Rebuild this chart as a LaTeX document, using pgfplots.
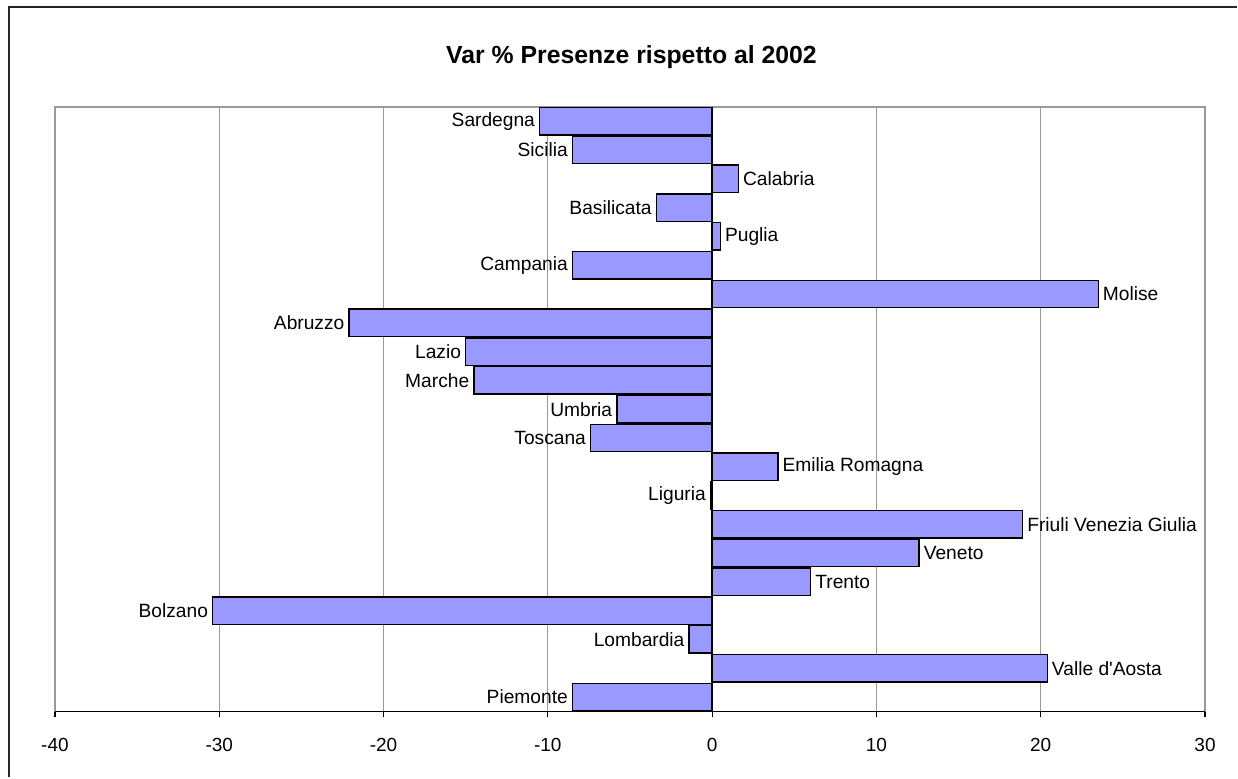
\documentclass[border=0pt]{standalone}
\usepackage{fontspec}
\setmainfont{Liberation Sans}
\usepackage{pgfplots}
\pgfplotsset{compat=1.18}
\definecolor{barfill}{HTML}{9999FF}

\begin{document}
\begin{tikzpicture}
\begin{axis}[
    at={(0pt,0pt)}, anchor=south west,
    width=575.5pt, height=302.5pt, scale only axis,
    xbar, bar shift=0pt, bar width=0.95,
    xmin=-40, xmax=30, ymin=-0.5, ymax=20.5,
    xtick={-40,-30,...,30},
    xtick pos=bottom,
    ytick=\empty,
    xmajorgrids, major grid style={gray!80, line width=0.6pt},
    axis line style={draw=gray!80, line width=0.8pt},
    tick align=outside, major tick length=3pt,
    xtick style={black, line width=0.6pt},
    tick label style={font=\fontsize{9.5}{11}\selectfont},
    xticklabel style={yshift=-7pt},
    /pgf/number format/assume math mode=true,
    point meta=explicit symbolic,
    nodes near coords,
    every node near coord/.append style={font=\fontsize{9.6}{11}\selectfont, inner sep=2pt},
    clip=false,
]
% negative values: label to the left of the bar end
\addplot[draw=black, fill=barfill, line width=0.7pt,
    every node near coord/.append style={anchor=east}] coordinates {
    (-8.5,0) [Piemonte]
    (-1.4,2) [Lombardia]
    (-30.4,3) [Bolzano]
    (-0.1,7) [Liguria]
    (-7.4,9) [Toscana]
    (-5.8,10) [Umbria]
    (-14.5,11) [Marche]
    (-15.0,12) [Lazio]
    (-22.1,13) [Abruzzo]
    (-8.5,15) [Campania]
    (-3.4,17) [Basilicata]
    (-8.5,19) [Sicilia]
    (-10.5,20) [Sardegna]
};
% positive values: label to the right of the bar end
\addplot[draw=black, fill=barfill, line width=0.7pt,
    every node near coord/.append style={anchor=west}] coordinates {
    (20.4,1) [Valle d\textquotesingle{}Aosta]
    (6.0,4) [Trento]
    (12.6,5) [Veneto]
    (18.9,6) [Friuli Venezia Giulia]
    (4.0,8) [Emilia Romagna]
    (23.5,14) [Molise]
    (0.5,16) [Puglia]
    (1.6,18) [Calabria]
};
\draw[black, line width=0.8pt] (rel axis cs:0,0) -- (rel axis cs:1,0);
\end{axis}
% frame and title
\draw[black!85, line width=1pt] (-23pt,-33pt) -- (-23pt,352.5pt) -- (591.5pt,352.5pt);
\node[font=\bfseries\fontsize{12.4}{14}\selectfont] at (288.5pt,327.5pt) {Var \% Presenze rispetto al 2002};
\path[use as bounding box] (-27.5pt,-33pt) rectangle (591.5pt,356pt);
\end{tikzpicture}
\end{document}
